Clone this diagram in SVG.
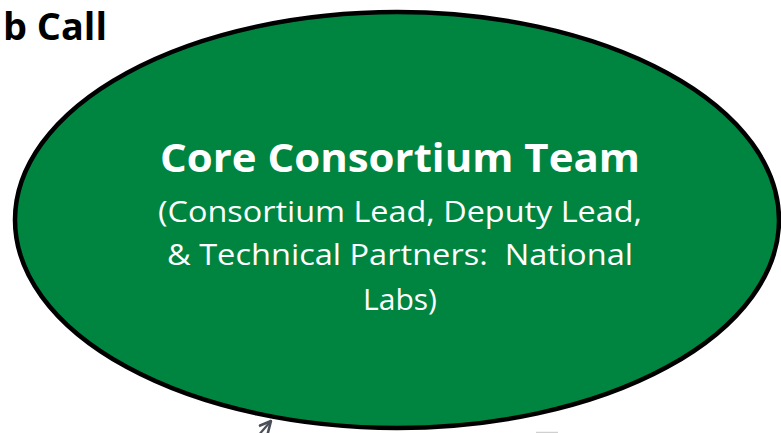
<svg xmlns="http://www.w3.org/2000/svg" width="781" height="433" viewBox="0 0 781 433">
<style>
.title{font-family:"Open Sans","Liberation Sans",sans-serif;font-weight:bold;fill:#fff;text-anchor:middle}
.body{font-family:"Open Sans","Liberation Sans",sans-serif;fill:#fff;text-anchor:middle}
.head{font-family:"Open Sans","Liberation Sans",sans-serif;font-weight:bold;fill:#000}
</style>
<defs>
<marker id="ah" viewBox="0 0 12 12" refX="11" refY="6" markerWidth="14" markerHeight="14" orient="auto" markerUnits="userSpaceOnUse">
<path d="M1,1 L11,6 L1,11" fill="none" stroke="#4a4f5a" stroke-width="2.2"/>
</marker>
</defs>
<rect width="781" height="433" fill="#fff"/>
<text class="head" x="3" y="40" font-size="38" textLength="104" lengthAdjust="spacingAndGlyphs">b Call</text>
<g id="connectors">
<line x1="250" y1="445" x2="271" y2="421" stroke="#4a4f5a" stroke-width="2.2" marker-end="url(#ah)"/>
<line x1="536" y1="432.5" x2="558" y2="432.5" stroke="#d0d0d0" stroke-width="1.5"/>
</g>
<g id="core-team">
<ellipse cx="397" cy="220" rx="382" ry="208" fill="#008540" stroke="#000" stroke-width="4.5"/>
<text class="title" x="400" y="172" font-size="40" textLength="480" lengthAdjust="spacingAndGlyphs">Core Consortium Team</text>
<text class="body" x="400" y="222" font-size="29" textLength="484" lengthAdjust="spacingAndGlyphs">(Consortium Lead, Deputy Lead,</text>
<text class="body" x="400" y="265" font-size="29" textLength="466" lengthAdjust="spacingAndGlyphs" xml:space="preserve">&amp; Technical Partners:  National</text>
<text class="body" x="400" y="310" font-size="29" textLength="74" lengthAdjust="spacingAndGlyphs">Labs)</text>
</g>
</svg>
